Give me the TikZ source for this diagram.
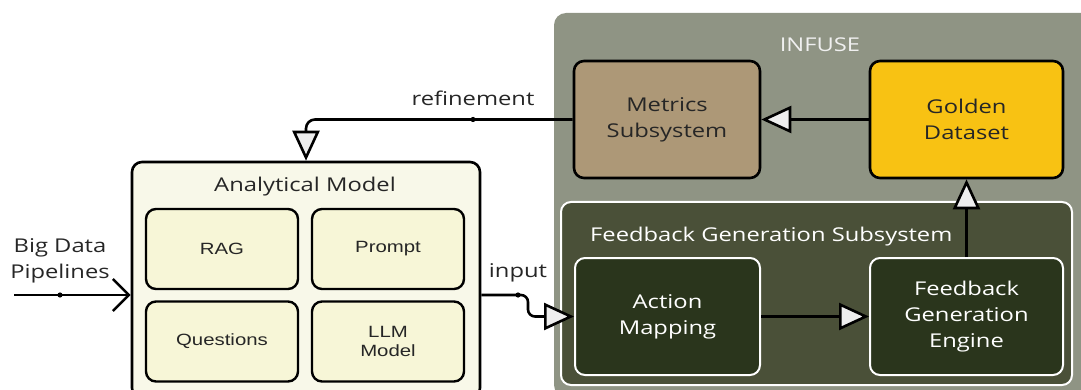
\documentclass[tikz,border=0pt]{standalone}
\usepackage{fontspec}
\newfontfamily\osans{Open Sans}[FakeStretch=1.25]
\newfontfamily\lsans{Liberation Sans}[FakeStretch=1.25]
\usetikzlibrary{arrows.meta}
\definecolor{infusebg}{HTML}{8F9484}
\definecolor{metricsc}{HTML}{AD9877}
\definecolor{goldenc}{HTML}{F8C213}
\definecolor{fgsbg}{HTML}{4A5038}
\definecolor{darkbox}{HTML}{2A351C}
\definecolor{amfill}{HTML}{F8F8E9}
\definecolor{innerfill}{HTML}{F7F6D7}
\definecolor{tipfill}{HTML}{EEEEEE}
\definecolor{txtdark}{HTML}{262626}
\begin{document}
\begin{tikzpicture}[x=1pt,y=-1pt,
  lbl/.style={font=\osans\fontsize{19}{26}\selectfont, align=center, inner sep=0pt, text=txtdark},
  box/.style={draw=black, line width=2.6pt, rounded corners=10pt, inner sep=0pt, align=center,
              font=\osans\fontsize{19}{26}\selectfont, text=txtdark},
  darkbx/.style={draw=white, line width=2pt, rounded corners=10pt, inner sep=0pt, align=center,
              fill=darkbox, font=\osans\fontsize{19}{26}\selectfont, text=white},
  innerbx/.style={draw=black, line width=2.4pt, rounded corners=10pt, inner sep=0pt, align=center,
              fill=innerfill, font=\lsans\fontsize{16.3}{19.5}\selectfont, text=txtdark,
              minimum width=152pt, minimum height=80pt},
  conn/.style={draw=black, line width=2.6pt, line join=round},
  opentip/.style={-{Triangle[length=30pt,width=27pt,fill=tipfill,line join=miter]}},
  dot/.style={fill=black}
]
\useasboundingbox (0,0) rectangle (1081,390);
\clip (0,0) rectangle (1081,390);

% INFUSE container
\node[fill=infusebg, rounded corners=12pt, minimum width=540pt, minimum height=384pt, inner sep=0pt] (infuse) at (824,205) {};
\node[lbl, text=white!94!black] (infuselbl) at (820,45) {INFUSE};

\node[box, fill=metricsc, minimum width=186pt, minimum height=117pt] (metrics) at (667,119.5) {Metrics\\Subsystem};
\node[box, fill=goldenc, minimum width=193pt, minimum height=117pt] (golden) at (966.5,119.5) {Golden\\Dataset};

% Feedback Generation Subsystem
\node[draw=white, line width=2pt, fill=fgsbg, rounded corners=10pt, minimum width=511pt, minimum height=183pt, inner sep=0pt] (fgs) at (816.5,293.5) {};
\node[lbl, text=white, anchor=west] (fgslbl) at (590,237) {Feedback Generation Subsystem};
\node[darkbx, minimum width=185pt, minimum height=117pt] (action) at (667.5,316.5) {Action\\Mapping};
\node[darkbx, minimum width=193pt, minimum height=117pt] (engine) at (966.5,316.5) {Feedback\\Generation\\Engine};

% Analytical Model
\node[box, fill=amfill, minimum width=348pt, minimum height=236pt] (am) at (306,280) {};
\node[lbl] (amlbl) at (305,187) {Analytical Model};
\node[innerbx] (rag) at (222,249) {RAG};
\node[innerbx] (prompt) at (388,249) {Prompt};
\node[innerbx] (questions) at (222,341.5) {Questions};
\node[innerbx] (llm) at (388,341.5) {LLM\\Model};

% Big Data Pipelines
\node[lbl] (bdlbl) at (60,261) {Big Data\\Pipelines};
\coordinate (bdstart) at (14,295);
\coordinate (bddot) at (60,295);
\draw[conn, -{Straight Barb[length=16pt,width=32pt,line join=miter]}] (bdstart) -- (bdstart -| am.west);
\fill[dot] (bddot) circle (2.6pt);

% refinement
\coordinate (refdot) at (473,119.5);
\node[lbl] (reflbl) at (473,98) {refinement};
\draw[conn, opentip, rounded corners=9pt] (metrics.west) -| (am.north);
\fill[dot] (refdot) circle (2.6pt);

% input
\coordinate (indot) at (518,295);
\node[lbl] (inlbl) at (518,273) {input};
\draw[conn, opentip, rounded corners=7pt] (indot -| am.east) -- (528,295) -- (528,316.5) -- (action.west);
\fill[dot] (indot) circle (2.6pt);

% inner INFUSE connectors
\draw[conn, opentip] (golden.west) -- (metrics.east);
\draw[conn, opentip] (action.east) -- (engine.west);
\draw[conn, opentip] (engine.north) -- (golden.south);
\end{tikzpicture}
\end{document}
